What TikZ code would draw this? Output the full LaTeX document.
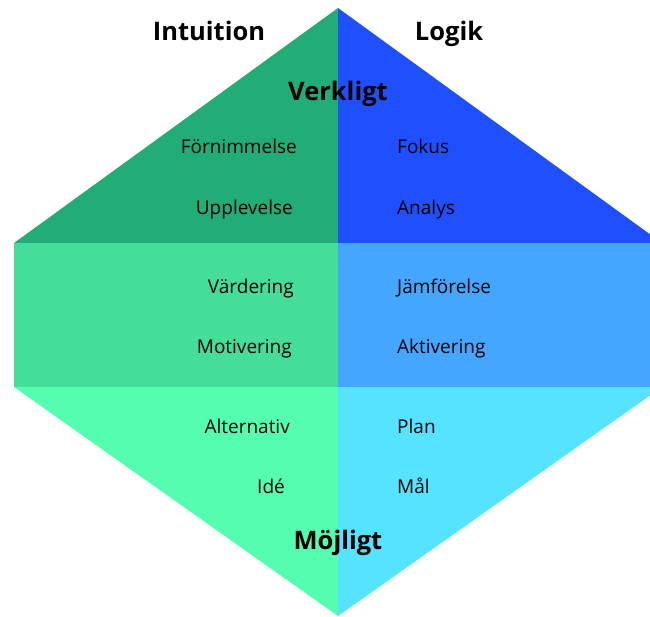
\documentclass[tikz,border=0pt]{standalone}
\usepackage{fontspec}
\setmainfont{Open Sans}
\usepackage{tikz}
\usetikzlibrary{positioning}
\definecolor{intutop}{RGB}{34,173,120}
\definecolor{logitop}{RGB}{31,80,255}
\definecolor{intumid}{RGB}{68,221,154}
\definecolor{logimid}{RGB}{68,166,255}
\definecolor{intubot}{RGB}{85,253,176}
\definecolor{logibot}{RGB}{85,227,255}
\tikzstyle{every word node}=[inner sep=0pt,font=\fontsize{19}{21}\selectfont]
\tikzstyle{every head node}=[inner sep=0pt,font=\fontsize{25.5}{27}\selectfont\bfseries]

\begin{document}
\begin{tikzpicture}[x=1pt,y=-1pt]
\useasboundingbox (0,0) rectangle (650,616);
\clip (0,0) rectangle (650,616);
% fields
\fill[intutop] (338,8) -- (14,243) -- (338,243) -- cycle;
\fill[logitop] (338,8) -- (662,243) -- (338,243) -- cycle;
\fill[intumid] (14,243) rectangle (338,387);
\fill[logimid] (338,243) rectangle (662,387);
\fill[intubot] (14,387) -- (338,387) -- (338,616) -- cycle;
\fill[logibot] (338,387) -- (662,387) -- (338,616) -- cycle;
% headings
\node[every head node, anchor=base] (intuition) at (209,40) {Intuition};
\node[every head node, anchor=base] (logik) at (449,40) {Logik};
\node[every head node, anchor=base] (verkligt) at (338,100) {Verkligt};
\node[every head node, anchor=base] (mojligt) at (338,549) {Möjligt};
% left column
\node[every word node, anchor=base east] (fornimmelse) at (297,153) {Förnimmelse};
\node[every word node, anchor=base east] (upplevelse) at (293,214) {Upplevelse};
\node[every word node, anchor=base east] (vardering) at (294,293) {Värdering};
\node[every word node, anchor=base east] (motivering) at (292,353) {Motivering};
\node[every word node, anchor=base east] (alternativ) at (290,433) {Alternativ};
\node[every word node, anchor=base east] (ide) at (285,493) {Idé};
% right column
\node[every word node, anchor=base west] (fokus) at (397,153) {Fokus};
\node[every word node, anchor=base west] (analys) at (397,214) {Analys};
\node[every word node, anchor=base west] (jamforelse) at (397,293) {Jämförelse};
\node[every word node, anchor=base west] (aktivering) at (397,353) {Aktivering};
\node[every word node, anchor=base west] (plan) at (397,433) {Plan};
\node[every word node, anchor=base west] (mal) at (397,493) {Mål};
\end{tikzpicture}
\end{document}
